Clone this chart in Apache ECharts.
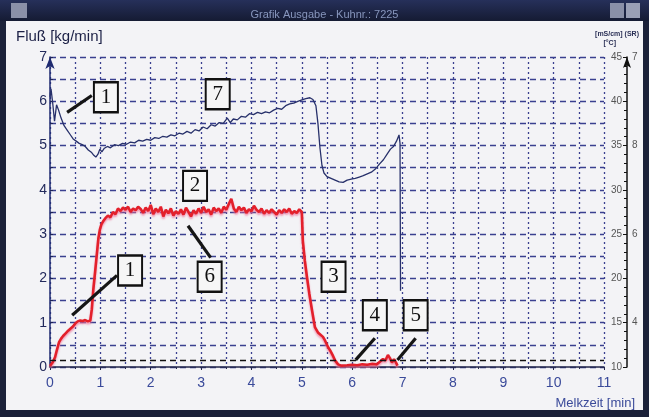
<!DOCTYPE html>
<html>
<head>
<meta charset="utf-8">
<script src="https://cdn.jsdelivr.net/npm/echarts@6/dist/echarts.min.js"></script>
<style>
html,body{margin:0;padding:0;background:#1b2139;}
#frame{position:absolute;left:0;top:0;width:649px;height:417px;background:#1b2139;}
#titlebar{position:absolute;left:0;top:0;width:649px;height:21px;background:linear-gradient(#26305a,#151b33);}
#paper{position:absolute;left:6px;top:21px;width:637px;height:389px;background:#f3f3f6;}
#chart{position:absolute;left:0;top:0;width:649px;height:417px;}
</style>
</head>
<body>
<div id="frame"></div>
<div id="titlebar"></div>
<div id="paper"></div>
<div id="chart"></div>
<script>
// ---- data ----
const xTicks = [0,1,2,3,4,5,6,7,8,9,10,11];
const flowTime = [0,0.05,0.1,0.14,0.18,0.22,0.26,0.31,0.36,0.41,0.46,0.5,0.55,0.6,0.65,0.7,0.75,0.8,0.83,0.86,0.9,0.93,0.96,0.99,1.02,1.06,
1.10,1.15,1.20,1.25,1.30,1.35,1.40,1.45,1.50,1.55,1.60,1.65,1.70,1.75,1.80,1.85,1.90,1.95,2.00,2.05,2.10,2.15,2.20,2.25,2.30,2.35,2.40,2.45,2.50,2.55,2.60,2.65,2.70,2.75,2.80,2.85,2.90,2.95,3.00,3.05,3.10,3.15,3.20,3.25,3.30,3.35,3.40,3.45,3.50,3.55,3.60,3.65,3.70,3.75,3.80,3.85,3.90,3.95,4.00,4.05,4.10,4.15,4.20,4.25,4.30,4.35,4.40,4.45,4.50,4.55,4.60,4.65,4.70,4.75,4.80,4.85,4.90,4.95,5.00,
5.02,5.06,5.10,5.15,5.20,5.26,5.32,5.36,5.42,5.46,5.52,5.56,5.62,5.66,5.72,5.78,5.9,6.0,6.1,6.2,6.3,6.4,6.49,6.55,6.61,6.66,6.71,6.75,6.79,6.83,6.87,6.9];
const flowValue = [0.02,0.1,0.22,0.4,0.56,0.64,0.7,0.76,0.82,0.87,0.92,0.98,1.03,1.05,1.04,1.06,1.03,1.05,1.3,1.75,2.2,2.55,2.9,3.1,3.22,3.3,
3.36,3.42,3.38,3.50,3.45,3.58,3.52,3.60,3.55,3.62,3.50,3.58,3.54,3.62,3.57,3.48,3.60,3.52,3.66,3.45,3.58,3.50,3.62,3.40,3.55,3.47,3.58,3.42,3.52,3.46,3.56,3.44,3.60,3.50,3.40,3.54,3.46,3.58,3.48,3.62,3.50,3.56,3.44,3.60,3.52,3.58,3.48,3.62,3.55,3.68,3.80,3.58,3.50,3.62,3.54,3.60,3.48,3.56,3.52,3.64,3.55,3.50,3.58,3.46,3.54,3.48,3.56,3.50,3.44,3.54,3.48,3.56,3.50,3.58,3.46,3.52,3.48,3.56,3.50,
2.85,2.4,2.05,1.65,1.3,0.9,0.78,0.74,0.68,0.6,0.45,0.38,0.25,0.15,0.06,0.03,0.04,0.05,0.04,0.06,0.05,0.07,0.06,0.12,0.18,0.15,0.27,0.2,0.1,0.18,0.1,0.03];
const condTime = [0.00,0.02,0.05,0.09,0.13,0.17,0.22,0.28,0.34,0.40,0.46,0.52,0.58,0.64,0.70,0.76,0.82,0.87,0.91,0.95,0.99,1.03,1.08,1.14,1.20,1.28,1.36,1.44,1.52,1.60,1.68,1.76,1.84,1.92,2.00,2.08,2.16,2.24,2.32,2.40,2.48,2.56,2.64,2.72,2.80,2.88,2.96,3.04,3.12,3.20,3.28,3.36,3.44,3.52,3.58,3.64,3.72,3.80,3.88,3.96,4.04,4.12,4.20,4.28,4.36,4.44,4.52,4.60,4.68,4.76,4.84,4.92,5.00,5.08,5.16,5.22,5.28,5.32,5.36,5.40,5.44,5.50,5.58,5.66,5.74,5.82,5.90,5.98,6.06,6.14,6.22,6.30,6.38,6.46,6.54,6.62,6.70,6.76,6.82,6.88,6.93,6.95,6.96];
const condValue = [40.5,41.4,40.0,37.75,39.6,39.0,38.1,37.25,36.75,36.25,35.75,35.5,35.25,35.1,34.9,34.5,34.25,33.9,33.7,34.0,34.6,34.3,34.7,34.9,34.75,35.1,35.0,35.25,35.15,35.4,35.3,35.6,35.5,35.7,35.6,35.9,35.8,36.05,35.95,36.2,36.1,36.4,36.3,36.6,36.4,36.8,36.65,37.1,36.9,37.35,37.2,37.6,37.5,38.1,37.6,38.0,37.9,38.3,38.2,38.6,38.5,38.75,38.6,38.8,38.7,39.0,39.2,39.1,39.5,39.7,39.8,40.0,40.15,40.3,40.4,40.2,39.5,37.5,34.75,32.75,31.9,31.5,31.3,31.1,30.9,30.85,31.1,31.2,31.3,31.45,31.6,31.8,32.0,32.35,32.9,33.4,34.1,34.6,34.9,35.5,36.2,35.25,18.6];
const rightOuterValues = [15,25,35,45];
const rightOuterLabels = ['4','6','8','7'];
const thresholdFlow = 0.15;
// annotation callouts (data coordinates of the flow axis)
const calloutLabels = ['1','7','2','6','1','3','4','5'];
const calloutAt = [[1.11,6.09],[3.33,6.16],[2.88,4.09],[3.17,2.04],[1.59,2.18],[5.63,2.04],[6.45,1.17],[7.26,1.17]];
const leaderFrom = [[0.34,5.75],[2.74,3.19],[0.44,1.17],[6.45,0.65],[7.26,0.65]];
const leaderTo = [[0.83,6.13],[3.19,2.47],[1.33,2.07],[6.07,0.16],[6.9,0.16]];

const flowData = flowTime.map((t,i)=>[t,flowValue[i]]);
const condData = condTime.map((t,i)=>[t,condValue[i]]);

const navy = '#1f2657';
const gridBlue = '#3a4090';

const chart = echarts.init(document.getElementById('chart'), null, {renderer:'canvas'});
chart.setOption({
  backgroundColor: 'transparent',
  animation: false,
  title: [
    {text:'Grafik Ausgabe - Kuhnr.: 7225', left:'center', top:4, textStyle:{color:'#8796bd', fontSize:11, fontWeight:'normal', fontFamily:'Liberation Sans'}},
    {text:'Fluß [kg/min]', left:11, top:24, textStyle:{color:'#1b1f45', fontSize:15, fontWeight:'normal', fontFamily:'Liberation Sans'}},
    {text:'[mS/cm] (SR)', right:5, top:26, textStyle:{color:'#2a2f55', fontSize:7, fontWeight:'bold', fontFamily:'Liberation Sans'}},
    {text:'[°C]', right:28, top:35, textStyle:{color:'#2a2f55', fontSize:7, fontWeight:'bold', fontFamily:'Liberation Sans'}},
    {text:'Melkzeit [min]', right:9, top:392, textStyle:{color:'#3a4a9a', fontSize:13, fontWeight:'normal', fontFamily:'Liberation Sans'}}
  ],
  graphic: [
    {type:'rect', left:11, top:3, shape:{width:16, height:15}, style:{fill:'#8a90a8'}},
    {type:'rect', left:610, top:3, shape:{width:14, height:15}, style:{fill:'#8a90a8'}},
    {type:'rect', left:626, top:3, shape:{width:14, height:15}, style:{fill:'#9aa0b6'}}
  ],
  grid: {left:50, right:45, top:57, bottom:50, containLabel:false},
  xAxis: {
    type:'value', min:0, max:11, interval:1,
    axisLine:{show:true, lineStyle:{color:'#22264a', width:1.5}},
    axisTick:{show:true, length:3, lineStyle:{color:'#22264a'}},
    minorTick:{show:true, splitNumber:2, length:2, lineStyle:{color:'#22264a'}},
    axisLabel:{color:'#3a4a9a', fontSize:14, margin:9, fontFamily:'Liberation Sans',
      formatter:(v)=> xTicks.includes(v) ? String(v) : ''},
    splitLine:{show:true, lineStyle:{color:gridBlue, type:[2,3], width:1.3}},
    minorSplitLine:{show:true, lineStyle:{color:gridBlue, type:[2,3], width:1.3}}
  },
  yAxis: [
    {
      type:'value', min:0, max:7, interval:1, position:'left',
      axisLine:{show:true, symbol:['none','arrow'], symbolSize:[7,12], lineStyle:{color:'#1e2a70', width:1.5}},
      axisTick:{show:true, length:3, inside:true, lineStyle:{color:navy}},
      minorTick:{show:true, splitNumber:2, length:3, lineStyle:{color:navy}},
      axisLabel:{color:'#232a5c', fontSize:14, margin:3, fontFamily:'Liberation Sans'},
      splitLine:{show:true, lineStyle:{color:gridBlue, type:[6,4], width:1.3}},
      minorSplitLine:{show:true, lineStyle:{color:gridBlue, type:[6,4], width:1.3}}
    },
    {
      type:'value', min:10, max:45, interval:5, position:'right', offset:23,
      axisLine:{show:true, symbol:['none','arrow'], symbolSize:[6,11], lineStyle:{color:'#111', width:1.5}},
      axisTick:{show:true, length:4, inside:true, lineStyle:{color:'#111'}},
      minorTick:{show:true, splitNumber:5, length:3, lineStyle:{color:'#111'}},
      axisLabel:{inside:true, color:'#555', fontSize:10, margin:5, fontFamily:'Liberation Sans'},
      splitLine:{show:false}
    },
    {
      type:'value', min:10, max:45, interval:5, position:'right', offset:23,
      axisLine:{show:false}, axisTick:{show:false}, splitLine:{show:false},
      axisLabel:{color:'#555', fontSize:10, margin:5, fontFamily:'Liberation Sans',
        formatter:(v)=>{const k=rightOuterValues.indexOf(v); return k>=0 ? rightOuterLabels[k] : '';}}
    }
  ],
  series: [
    {
      name:'Leitfähigkeit', type:'line', yAxisIndex:1, data:condData,
      showSymbol:false, smooth:false, z:3,
      lineStyle:{color:'#27306a', width:1.3}
    },
    {
      name:'Fluß', type:'line', yAxisIndex:0, data:flowData,
      showSymbol:false, smooth:false, z:4,
      lineStyle:{color:'#e3202b', width:2.6, shadowColor:'rgba(240,110,150,0.7)', shadowBlur:2, shadowOffsetY:2},
      markLine:{
        silent:true, symbol:'none', animation:false,
        label:{show:false},
        data: [
          [{coord:[0,thresholdFlow], lineStyle:{color:'#111', type:[6,4], width:1.4}},{coord:[11,thresholdFlow]}]
        ].concat(leaderFrom.map((p,i)=>[{coord:p, lineStyle:{color:'#151515', type:'solid', width:3.2}},{coord:leaderTo[i]}]))
      },
      markPoint:{
        silent:true, animation:false,
        symbol:'rect', symbolSize:[24,30],
        itemStyle:{color:'#f6f6f6', borderColor:'#111', borderWidth:2.2},
        label:{show:true, color:'#111', fontSize:21, fontFamily:'Liberation Serif', formatter:(p)=>p.name},
        data: calloutAt.map((c,i)=>({name:calloutLabels[i], coord:c}))
      }
    }
  ]
});
</script>
</body>
</html>
